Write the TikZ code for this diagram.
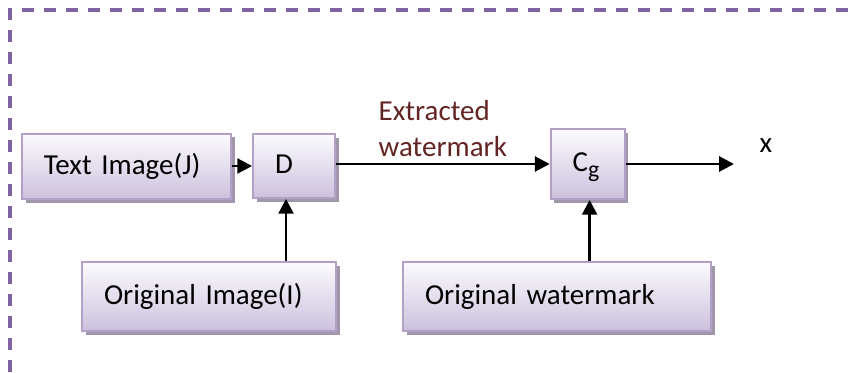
\documentclass[tikz,border=0pt]{standalone}
\usepackage{fontspec}
\setmainfont{Carlito}
\usepackage{tikz}
\usetikzlibrary{arrows.meta,positioning,calc,shadows}
\definecolor{boxtop}{RGB}{252, 251, 254}
\definecolor{boxbottom}{RGB}{204, 193, 221}
\definecolor{boxborder}{RGB}{178, 161, 199}
\definecolor{boxshadow}{RGB}{160, 152, 170}
\definecolor{framepurple}{RGB}{128, 100, 162}
\definecolor{labelred}{RGB}{99, 37, 35}
\newcommand{\subg}{\raisebox{-0.2em}{\fontsize{17}{20}\selectfont g}}

\begin{document}
\begin{tikzpicture}[
        block/.style={draw=boxborder, line width=1.3pt, top color=boxtop, bottom color=boxbottom,
            font=\fontsize{20.6}{25.6}\selectfont, align=left, inner xsep=0.55cm, inner ysep=0pt,
            text depth=0.1cm,
            drop shadow={shadow xshift=0.09cm, shadow yshift=-0.09cm, fill=boxshadow, opacity=1}},
        flow/.style={line width=2.1pt, -{Triangle[length=0.37cm, width=0.37cm]}},
        frame/.style={draw=framepurple, line width=2.2pt, dash pattern=on 0.3cm off 0.25cm}
    ]
        \useasboundingbox (0,0) rectangle (21.2,-9.3);

        % dashed outline, open to the right and below
        \draw[frame] (0.25,-9.3) -- (0.25,-0.25) -- (21.2,-0.25);

        % Blocks
        \node[block, minimum width=5.225cm, minimum height=1.625cm, text width=4.125cm] (tbText) at (3.16, -4.16) {Text Image(J)};
        \node[block, minimum width=2.05cm, minimum height=1.6cm, text width=0.95cm] (tbD) at (7.35, -4.15) {D};
        \node[block, minimum width=1.85cm, minimum height=1.75cm, text width=0.75cm] (tbCg) at (14.69, -4.1) {C\subg};
        \node[block, minimum width=6.35cm, minimum height=1.725cm, text width=5.25cm] (tbOrig) at (5.225, -7.41) {Original Image(I)};
        \node[block, minimum width=7.7cm, minimum height=1.725cm, text width=6.6cm] (tbWm) at (13.925, -7.41) {Original watermark};

        % Output
        \coordinate (outEnd) at (18.35, -4.1);
        \node[font=\fontsize{20.6}{25.6}\selectfont, anchor=base] (outX) at (19.15, -3.82) {x};

        % Connections
        \draw[flow] (tbText.east |- tbD.west) -- (tbD.west);
        \draw[flow] (tbD.east |- tbCg.west) -- node[above, align=left, text=labelred,
            font=\fontsize{20.6}{25.6}\selectfont, inner sep=0.15cm] {Extracted\\watermark} (tbCg.west);
        \draw[flow] (tbCg.east) -- (outEnd);
        \draw[flow] ([xshift=-0.2cm]tbD.south |- tbOrig.north) -- ([xshift=-0.2cm]tbD.south);
        \draw[flow] ([xshift=0.05cm]tbCg.south |- tbWm.north) -- ([xshift=0.05cm]tbCg.south);
    \end{tikzpicture}
\end{document}
